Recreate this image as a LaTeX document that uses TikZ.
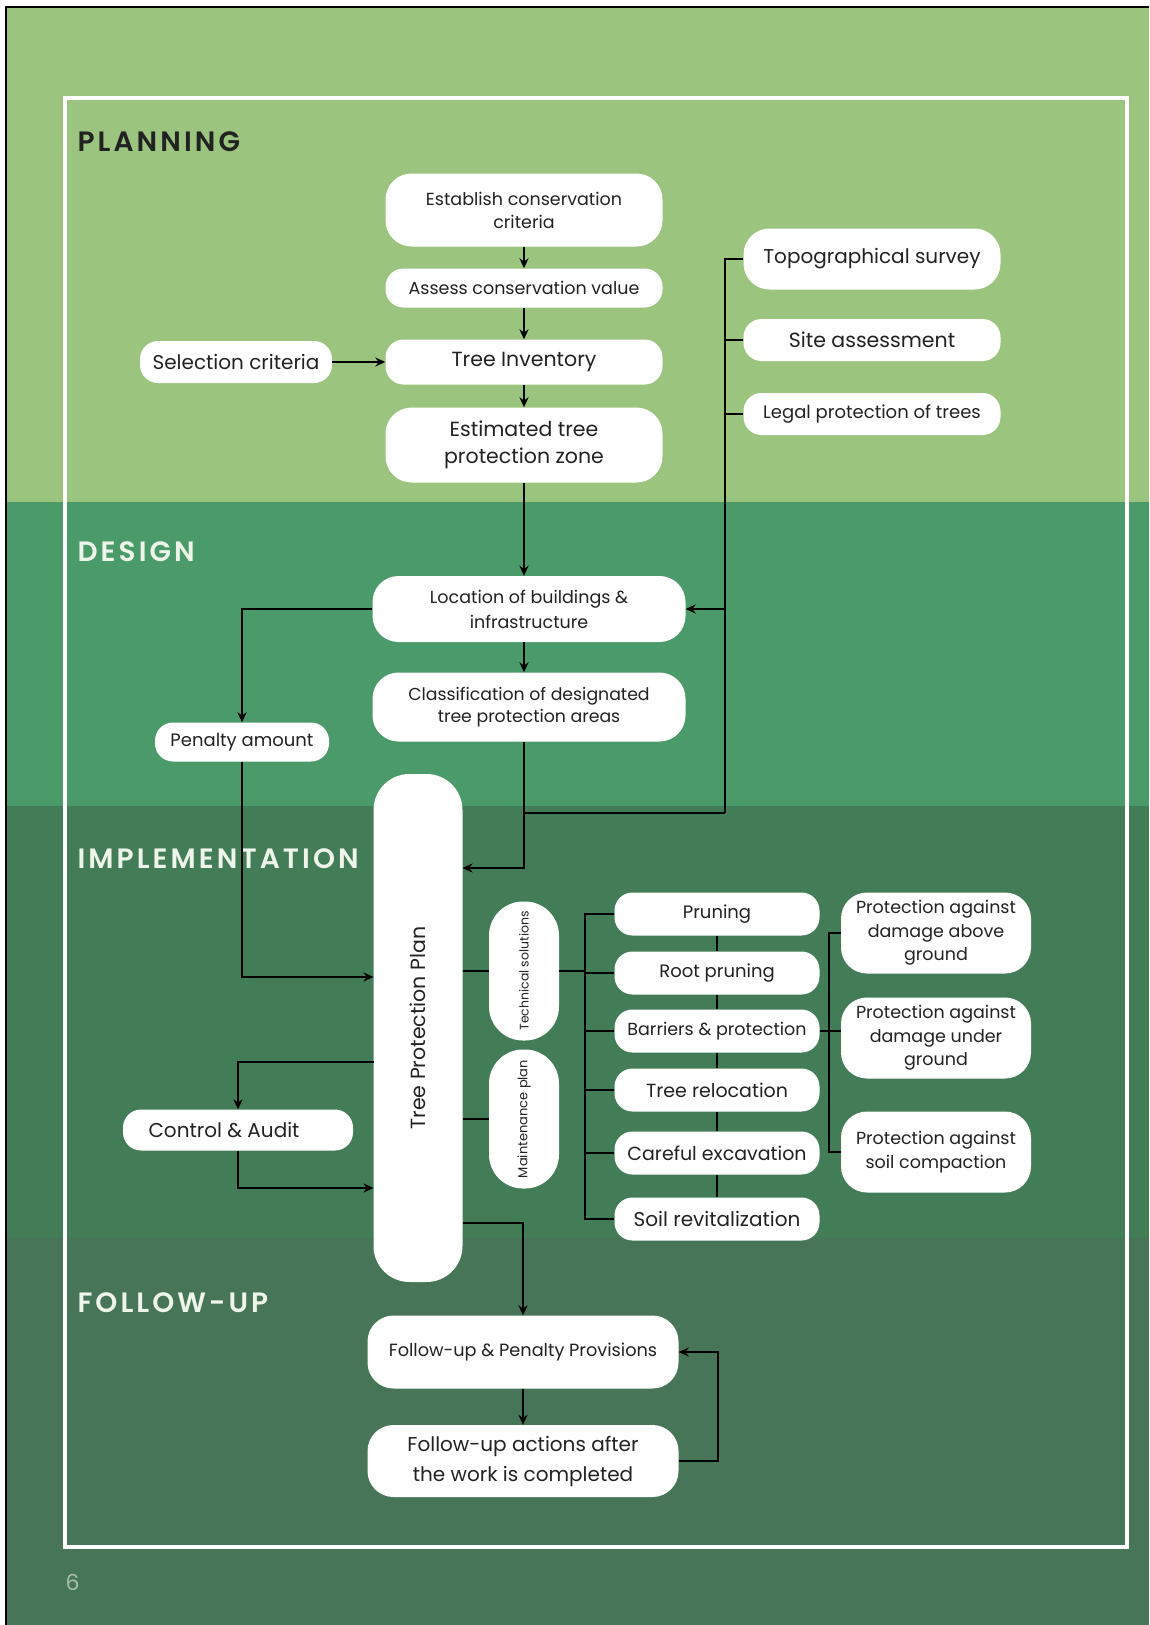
\documentclass[tikz,border=0pt]{standalone}
\usepackage{fontspec}
\setmainfont{Poppins}
\IfFontExistsTF{Poppins SemiBold}
  {\newfontfamily\headfont{Poppins SemiBold}[LetterSpace=11]}
  {\newfontfamily\headfont{Poppins}[LetterSpace=11, UprightFont=*, UprightFeatures={FakeBold=1.5}]}
\usetikzlibrary{arrows.meta}
\definecolor{GrovePlan}{HTML}{9BC47E}
\definecolor{GroveDesign}{HTML}{4A9A6A}
\definecolor{GroveBuild}{HTML}{437D58}
\definecolor{GroveFollow}{HTML}{477558}
\definecolor{GroveInk}{HTML}{222222}
\definecolor{GroveCream}{HTML}{EEF4EA}
\definecolor{GrovePage}{HTML}{A5BFA6}
\newcommand{\fsz}[2]{\fontsize{#1}{#2}\selectfont}

\begin{document}
\begin{tikzpicture}[x=1pt, y=-1pt, >={Stealth[length=10pt, width=9pt]},
    pill/.style={fill=white, rounded corners=18pt, inner sep=0pt, align=center, text=GroveInk},
    bigpill/.style={pill, rounded corners=26pt},
    mainbox/.style={pill, minimum width=277pt},
    sidebox/.style={pill, minimum width=257pt},
    actbox/.style={pill, minimum width=205pt, minimum height=43pt},
    guardbox/.style={bigpill, minimum width=190pt, minimum height=81pt, font=\fsz{17.5}{23.5}},
    flow/.style={->, line width=2.3pt},
    link/.style={line width=2.3pt},
    head/.style={anchor=west, font=\headfont\fsz{28}{32}},
  ]
    \useasboundingbox (0,0) rectangle (1149,1625);

    % Background bands
    \fill[white] (0,0) rectangle (1149,1625);
    \fill[GrovePlan] (7,8) rectangle (1149,502);
    \fill[GroveDesign] (7,502) rectangle (1149,806);
    \fill[GroveBuild] (7,806) rectangle (1149,1238);
    \fill[GroveFollow] (7,1238) rectangle (1149,1625);
    \draw[line width=2.5pt] (6,1625) -- (6,7) -- (1149,7);
    \draw[white, line width=4pt] (65,98) rectangle (1127,1547);

    % Phase labels
    \node[head, text=GroveInk] (planhead) at (74,142) {PLANNING};
    \node[head, text=GroveCream] (designhead) at (74,552) {DESIGN};
    \node[head, text=GroveCream] (buildhead) at (74,859) {IMPLEMENTATION};
    \node[head, text=GroveCream] (followhead) at (74,1303) {FOLLOW-UP};
    \node[anchor=west, text=GrovePage, font=\fsz{22}{26}] (pagenum) at (62,1582) {6};

    % Planning
    \node[mainbox, bigpill, minimum height=73pt, font=\fsz{17.5}{23}] (estab) at (524,210) {Establish conservation\\criteria};
    \node[mainbox, minimum height=39pt, font=\fsz{17.5}{21}] (assess) at (524,288) {Assess conservation value};
    \node[mainbox, minimum height=45pt, font=\fsz{20.5}{24}] (inventory) at (524,362) {Tree Inventory};
    \node[mainbox, bigpill, minimum height=75pt, font=\fsz{20.5}{27}] (estimated) at (524,445) {Estimated tree\\protection zone};
    \node[pill, minimum width=192pt, minimum height=42pt, font=\fsz{20}{24}] (selection) at (236,362) {Selection criteria};
    \node[sidebox, bigpill, minimum height=61pt, font=\fsz{20}{24}] (topo) at (872,259) {Topographical survey};
    \node[sidebox, minimum height=42pt, font=\fsz{20.5}{24}] (site) at (872,340) {Site assessment};
    \node[sidebox, minimum height=42pt, font=\fsz{18}{22}] (legal) at (872,414) {Legal protection of trees};

    % Design
    \node[bigpill, minimum width=313pt, minimum height=66pt, font=\fsz{17.5}{25}] (location) at (529,609) {Location of buildings \&\\infrastructure};
    \node[bigpill, minimum width=313pt, minimum height=69pt, font=\fsz{17.3}{22.5}] (classif) at (529,707) {Classification of designated\\tree protection areas};
    \node[pill, minimum width=174pt, minimum height=39pt, font=\fsz{18}{22}] (penalty) at (242,742) {Penalty amount};

    % Implementation
    \node[pill, rounded corners=36pt, minimum width=89pt, minimum height=508pt] (tpp) at (418,1028) {};
    \node[rotate=90, text=GroveInk, font=\fsz{20.5}{24}] (tpptext) at (tpp) {Tree Protection Plan};
    \node[pill, rounded corners=34pt, minimum width=70pt, minimum height=139pt] (techsol) at (524,971) {};
    \node[rotate=90, text=GroveInk, font=\fsz{12.5}{15}] (techtext) at (techsol) {Technical solutions};
    \node[pill, rounded corners=34pt, minimum width=70pt, minimum height=139pt] (maint) at (524,1119) {};
    \node[rotate=90, text=GroveInk, font=\fsz{13}{15}] (mainttext) at (maint) {Maintenance plan};
    \node[actbox, font=\fsz{18}{22}] (pruning) at (717,914) {Pruning};
    \node[actbox, font=\fsz{18}{22}] (rootprun) at (717,973) {Root pruning};
    \node[actbox, font=\fsz{17.5}{22}] (barriers) at (717,1031) {Barriers \& protection};
    \node[actbox, font=\fsz{19}{22}] (reloc) at (717,1090) {Tree relocation};
    \node[actbox, font=\fsz{19}{22}] (excav) at (717,1153) {Careful excavation};
    \node[actbox, font=\fsz{20}{24}] (revital) at (717,1219) {Soil revitalization};
    \node[guardbox] (above) at (936,933) {Protection against\\damage above\\ground};
    \node[guardbox] (under) at (936,1038) {Protection against\\damage under\\ground};
    \node[guardbox] (compact) at (936,1152) {Protection against\\soil compaction};
    \node[pill, minimum width=230pt, minimum height=41pt, font=\fsz{20}{24}] (control) at (238,1130) {Control \& Audit\hspace{28pt}};

    % Follow-up
    \node[bigpill, minimum width=311pt, minimum height=73pt, font=\fsz{17.7}{22}] (fpp) at (523,1352) {Follow-up \& Penalty Provisions};
    \node[bigpill, minimum width=311pt, minimum height=72pt, font=\fsz{20}{30}] (fa) at (523,1461) {Follow-up actions after\\the work is completed};

    % Free ends on the plan
    \coordinate (junction) at (725,813);
    \coordinate (designin) at (462.5,868);
    \coordinate (penaltyin) at (373.5,977);
    \coordinate (auditout) at (373.5,1062);
    \coordinate (auditin) at (373.5,1188);
    \coordinate (tppout) at (462.5,1223);

    % Planning links
    \draw[flow] (estab) -- (assess);
    \draw[flow] (assess) -- (inventory);
    \draw[flow] (inventory) -- (estimated);
    \draw[flow] (selection) -- (inventory);
    \draw[flow] (estimated.south) -- (estimated.south |- location.north);
    \draw[link] (topo.west) -| (junction);
    \draw[link] (site.west) -- (site.west -| junction);
    \draw[link] (legal.west) -- (legal.west -| junction);

    % Design links
    \draw[flow] (location.east -| junction) -- (location.east);
    \draw[flow] (location.south -| estimated.south) -- (classif.north -| estimated.south);
    \draw[flow] (location.west) -| (penalty.north);
    \draw[link] (classif.south -| estimated.south) |- (junction);
    \draw[flow] (classif.south -| estimated.south) |- (designin);
    \draw[flow] (penalty.south) |- (penaltyin);

    % Implementation links
    \draw[link] (tpp.east |- techsol.west) -- (techsol.west);
    \draw[link] (tpp.east |- maint.west) -- (maint.west);
    \draw[link] (techsol.east) -- ++(27,0);
    \draw[link] (pruning.west) -- ++(-29,0) |- (revital.west);
    \draw[link] (rootprun.west) -- ++(-29,0);
    \draw[link] (barriers.west) -- ++(-29,0);
    \draw[link] (reloc.west) -- ++(-29,0);
    \draw[link] (excav.west) -- ++(-29,0);
    \draw[link] (pruning) -- (rootprun);
    \draw[link] (rootprun) -- (barriers);
    \draw[link] (barriers) -- (reloc);
    \draw[link] (reloc) -- (excav);
    \draw[link] (excav) -- (revital);
    \draw[link] (above.west) -- ++(-12,0) |- (compact.west);
    \draw[link] (barriers.east) -- (barriers.east -| under.west);
    \draw[flow] (auditout) -| (control.north);
    \draw[flow] (control.south) |- (auditin);

    % Follow-up links
    \draw[flow] (tppout) -| (fpp.north);
    \draw[flow] (fpp) -- (fa);
    \draw[flow] (fa.east) -- ++(39,0) |- (fpp.east);
\end{tikzpicture}
\end{document}
